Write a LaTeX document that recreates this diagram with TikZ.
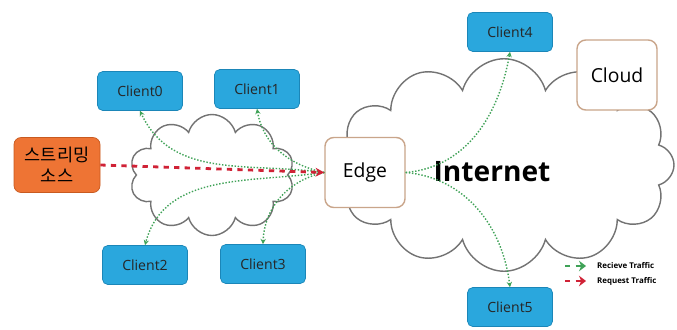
\documentclass[tikz,border=0pt]{standalone}
\usepackage{fontspec}
\setmainfont{Open Sans}
\newfontfamily\krfont{Noto Sans CJK KR}
\usetikzlibrary{shapes.symbols,arrows.meta}

\definecolor{clientblue}{HTML}{2AA7DD}
\definecolor{clientedge}{HTML}{1B86B8}
\definecolor{srcorange}{HTML}{EE7434}
\definecolor{srcedge}{HTML}{C85A20}
\definecolor{boxedge}{HTML}{C9A58A}
\definecolor{recvgreen}{HTML}{3FA257}
\definecolor{reqred}{HTML}{D02236}

\tikzset{
  client/.style={draw=clientedge, fill=clientblue, rounded corners=3pt,
    minimum width=1.7cm, minimum height=0.78cm, font=\fontsize{8}{9}\selectfont, text=black!85},
  whitebox/.style={draw=boxedge, fill=white, rounded corners=5pt, thick,
    minimum width=1.6cm, minimum height=1.4cm, font=\fontsize{11}{13}\selectfont},
  puffy/.style={cloud, draw=black!55, thick, fill=white, inner sep=0pt, cloud ignores aspect},
  recv/.style={recvgreen, densely dotted, line width=0.8pt, -{Stealth[length=3pt,width=3pt]}},
  req/.style={reqred, dashed, line width=1.6pt, -{Stealth[length=5pt,width=5pt]}},
  legtext/.style={anchor=west, font=\bfseries\fontsize{4.5}{5}\selectfont}
}

\begin{document}
\begin{tikzpicture}
% rete di distribuzione streaming: sorgente, edge e client
\useasboundingbox (0,0) rectangle (13.54,-6.58);

% nuvole
\node[puffy, cloud puffs=10, minimum width=3.3cm, minimum height=2.42cm] (lan) at (4.24,-3.5) {};
\node[puffy, cloud puffs=12, minimum width=6.8cm, minimum height=4.25cm] (net) at (10.08,-3.3) {};

\node[font=\bfseries\fontsize{16}{19}\selectfont] (inettxt) at (9.84,-3.44) {Internet};

% nodi
\node[draw=srcedge, fill=srcorange, rounded corners=4pt, minimum width=1.72cm, minimum height=1.1cm,
  font=\krfont\fontsize{10}{12}\selectfont, align=center] (src) at (1.14,-3.3) {스트리밍\\소스};
\node[whitebox] (edge) at (7.3,-3.45) {Edge};
\node[whitebox] (cloud) at (12.34,-1.5) {Cloud};

\node[client] (c0) at (2.8,-1.82) {Client0};
\node[client] (c1) at (5.14,-1.78) {Client1};
\node[client] (c2) at (2.9,-5.3) {Client2};
\node[client] (c3) at (5.26,-5.28) {Client3};
\node[client] (c4) at (10.2,-0.64) {Client4};
\node[client] (c5) at (10.2,-6.14) {Client5};

% traffico
\draw[recv] (edge.west) to[out=172,in=-65] (c0.south);
\draw[recv] (edge.west) to[out=168,in=-80] (c1.south);
\draw[recv] (edge.west) to[out=188,in=75] (c2.north);
\draw[recv] (edge.west) to[out=192,in=88] (c3.north);
\draw[recv] (edge.east) to[out=5,in=-100] (c4.south);
\draw[recv] (edge.east) to[out=-5,in=97] (c5.north);
\draw[req] (src.east) -- (edge.west);

% legenda
\coordinate (g1) at (11.3,-5.32);
\coordinate (g2) at (11.72,-5.32);
\coordinate (r1) at (11.3,-5.62);
\coordinate (r2) at (11.72,-5.62);
\draw[recvgreen, dashed, line width=1.2pt, -{Stealth[length=4pt,width=6pt]}] (g1) -- (g2);
\draw[reqred, dashed, line width=1.2pt, -{Stealth[length=4pt,width=6pt]}] (r1) -- (r2);
\node[legtext] (lg1) at (11.82,-5.32) {Recieve Traffic};
\node[legtext] (lg2) at (11.82,-5.62) {Request Traffic};
\end{tikzpicture}
\end{document}
